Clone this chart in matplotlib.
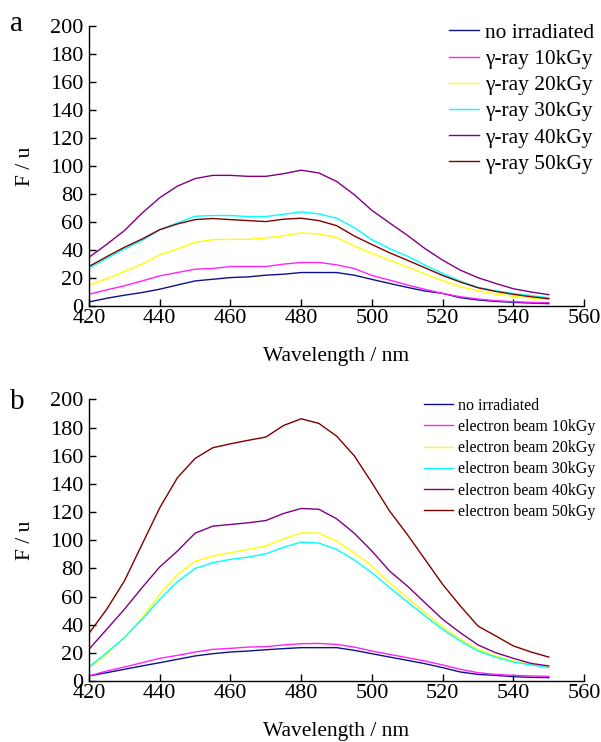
import matplotlib
matplotlib.use("Agg")
import matplotlib.pyplot as plt

plt.rcParams['font.family'] = ['Liberation Serif', 'DejaVu Serif']

# wavelength grid (nm)
wl = [420, 425, 430, 435, 440, 445, 450, 455, 460, 465, 470, 475, 480, 485,
      490, 495, 500, 505, 510, 515, 520, 525, 530, 535, 540, 545, 550]

# panel a: gamma-ray
a_labels = ["no irradiated", "γ-ray 10kGy", "γ-ray 20kGy", "γ-ray 30kGy",
            "γ-ray 40kGy", "γ-ray 50kGy"]
a_none = [2.9, 5.5, 7.7, 9.6, 12, 15, 17.9, 19.1, 20.3, 20.8, 22, 22.7, 23.9, 23.9,
          23.9, 22, 19, 16.1, 13.3, 10.7, 9, 5.9, 4.3, 3.3, 2.6, 2.1, 1.7]
a_10 = [8.4, 11.5, 14.4, 17.9, 21.5, 23.9, 26.3, 26.8, 28.2, 28.2, 28.2, 29.9, 31.1, 31.1,
        29.4, 26.8, 21.8, 18.5, 15, 11.9, 9, 6.6, 5, 3.8, 3.1, 2.6, 2.4]
a_20 = [14.8, 19.5, 24.6, 29.9, 36.6, 40.7, 45.5, 47.4, 47.6, 47.6, 48.6, 50.2, 52.2, 51.4,
        49, 43, 37.5, 32.7, 28, 22.8, 18, 13.8, 10.9, 8.5, 6.9, 5.7, 4.7]
a_30 = [27, 34, 40.7, 46.7, 54.5, 59.3, 64.1, 64.6, 64.6, 63.9, 63.9, 65.5, 67.2, 65.8,
        62.7, 56, 47.4, 41, 35.6, 29.2, 23.2, 17.8, 13.3, 10.9, 9, 7.4, 5.9]
a_40 = [34.7, 44, 53.8, 66.3, 77.3, 85.6, 91, 93.3, 93.3, 92.6, 92.6, 94.5, 97, 95,
        89, 79.5, 68.3, 59.3, 50.5, 41, 32.7, 25.6, 20.2, 16.1, 12.3, 10, 8.1]
a_50 = [28.2, 35.2, 41.9, 47.8, 54.5, 58.6, 61.7, 62.5, 61.7, 61, 60.3, 62, 62.7, 61,
        57.4, 50, 43.9, 38, 32.7, 27.3, 21.8, 17.1, 13, 10.4, 8.3, 6.6, 5.2]

# panel b: electron beam
b_labels = ["no irradiated", "electron beam 10kGy", "electron beam 20kGy",
            "electron beam 30kGy", "electron beam 40kGy", "electron beam 50kGy"]
b_none = [3.6, 5.9, 8.3, 10.7, 13, 15.4, 17.8, 19.4, 20.6, 21.3, 22.2, 23, 23.7, 23.7,
          23.7, 21.8, 19.4, 17, 14.7, 12.3, 9.5, 6.4, 4.7, 4, 3.1, 2.6, 2.4]
b_10 = [3.6, 7.1, 9.9, 13, 16.1, 18.2, 20.6, 22.5, 23.2, 24.1, 24.4, 25.6, 26.5, 26.7,
        26, 24.1, 21.3, 18.9, 16.6, 14.2, 11.4, 8.3, 5.9, 4.7, 4, 3.6, 3.3]
b_20 = [9.5, 18.9, 30.8, 45, 61.5, 75.7, 85, 88.8, 91.1, 93.5, 95.9, 101, 105.3, 105,
        99.4, 91, 81.7, 69.8, 59.2, 48.5, 38.3, 29.6, 22.5, 17.8, 14.2, 11.8, 9.9]
b_30 = [10, 20.1, 30.8, 43.8, 58, 70.5, 80, 84, 86.4, 88, 90.4, 95, 98.7, 98,
        93.5, 86, 76.9, 66.3, 56.3, 46.2, 36.7, 28.4, 21.3, 17, 13.5, 11.4, 9.5]
b_40 = [22.5, 36.7, 50.9, 66.3, 81, 92.3, 105, 110, 111.2, 112.4, 114, 119, 122.6, 122,
        115.3, 105, 92.3, 78.1, 67.5, 55.6, 43.8, 34.3, 25.6, 20.1, 16.1, 12.5, 10.7]
b_50 = [33.8, 50.9, 71, 97, 123, 144.4, 158.1, 165.7, 168.5, 171, 173.3, 181.5, 186.3, 183,
        174, 160, 140.8, 120.7, 104.1, 86.4, 68.6, 53.3, 39, 32, 24.9, 20.6, 17]

colors = ["#10108a", "#ff22ff", "#ffff00", "#00ffff", "#800080", "#800000"]

fig = plt.figure(figsize=(6.01, 7.42), dpi=100)
ax_a = fig.add_axes([0.148, 0.5876, 0.824, 0.3774])
ax_b = fig.add_axes([0.148, 0.0822, 0.824, 0.3794])


def style(ax):
    ax.set_xlim(420, 560)
    ax.set_ylim(0, 200)
    ax.set_xticks(range(420, 561, 20))
    ax.set_yticks(range(0, 201, 20))
    for s in ["top", "right"]:
        ax.spines[s].set_visible(False)
    for s in ["left", "bottom"]:
        ax.spines[s].set_linewidth(1.0)
    ax.tick_params(direction="in", length=5, width=1.0, labelsize=16)
    ax.tick_params(axis="y", pad=4)
    ax.tick_params(axis="x", pad=2)
    ax.set_xlabel("Wavelength / nm", fontsize=15.5, labelpad=14)
    ax.set_ylabel("F / u", fontsize=15.5, labelpad=11)


series_a = [a_none, a_10, a_20, a_30, a_40, a_50]
for ys, lab, c in zip(series_a, a_labels, colors):
    ax_a.plot(wl, ys, color=c, lw=1.0, label=lab)
style(ax_a)
ax_a.legend(loc="upper left", bbox_to_anchor=(0.747, 0.969), bbox_transform=fig.transFigure,
            frameon=False, fontsize=15.4, borderpad=0, borderaxespad=0,
            handlelength=1.4, handletextpad=0.28, labelspacing=0.29)

series_b = [b_none, b_10, b_20, b_30, b_40, b_50]
for ys, lab, c in zip(series_b, b_labels, colors):
    ax_b.plot(wl, ys, color=c, lw=1.0, label=lab)
style(ax_b)
ax_b.legend(loc="upper left", bbox_to_anchor=(0.7055, 0.4642), bbox_transform=fig.transFigure,
            frameon=False, fontsize=11.5, borderpad=0, borderaxespad=0,
            handlelength=1.8, handletextpad=0.32, labelspacing=0.33)

fig.text(0.017, 0.968, "a", fontsize=21, va="center")
fig.text(0.017, 0.4577, "b", fontsize=21, va="center")

fig.savefig("out.png", dpi=100)
